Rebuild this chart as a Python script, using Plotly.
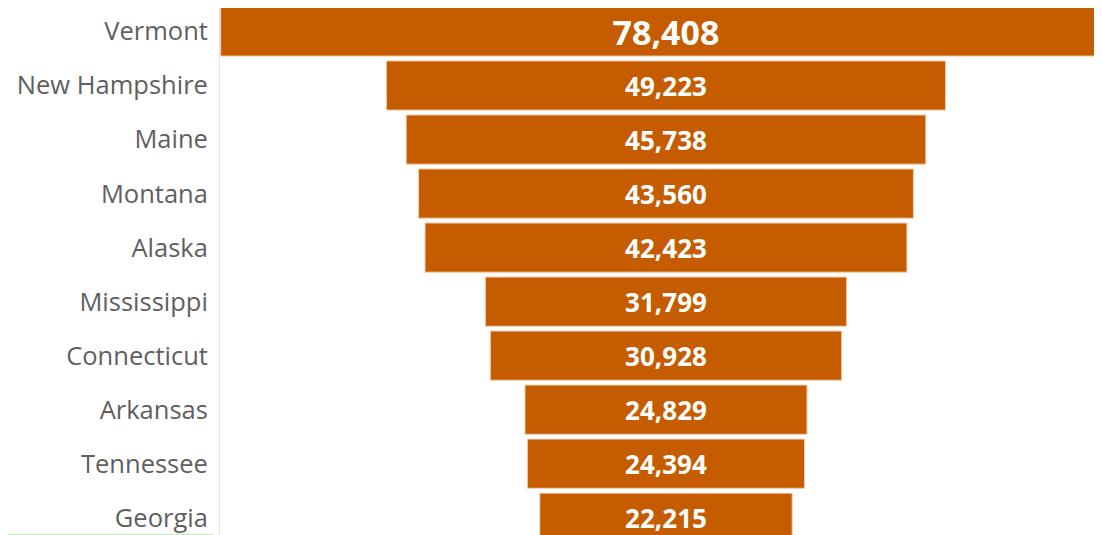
import plotly.graph_objects as go

states = ["Vermont", "New Hampshire", "Maine", "Montana", "Alaska",
          "Mississippi", "Connecticut", "Arkansas", "Tennessee", "Georgia"]
values = [78408, 49223, 45738, 43560, 42423, 31799, 30928, 24829, 24394, 22215]
label_sizes = [34, 26, 26, 26, 26, 26, 26, 26, 26, 26]

fig = go.Figure(go.Funnel(
    y=states,
    x=values,
    texttemplate="%{x:,}",
    textposition="inside",
    insidetextanchor="middle",
    textfont=dict(color="white", size=label_sizes, family="Open Sans", weight="bold"),
    marker=dict(color="#C65C00", line=dict(color="#F2CDB0", width=1)),
    connector=dict(visible=False),
    constraintext="none",
))

fig.update_layout(
    width=1102, height=527,
    margin=dict(l=212, r=0, t=0, b=0),
    paper_bgcolor="white", plot_bgcolor="white",
    showlegend=False,
    funnelgap=0.09,
    xaxis=dict(visible=False, range=[-39260, 39085]),
    yaxis=dict(
        range=[9.32, -0.435],
        showline=True, linecolor="#E6E6E6", linewidth=1,
        ticks="", ticklabelstandoff=6,
        tickfont=dict(family="Open Sans", size=25.5, color="#5F5F5F"),
        showgrid=False,
    ),
    shapes=[dict(type="line", xref="paper", yref="paper", x0=-212/890, x1=-7/890,
                 y0=0, y1=0, line=dict(color="#C8E6C0", width=2))],
)

fig.write_html("out.html")
